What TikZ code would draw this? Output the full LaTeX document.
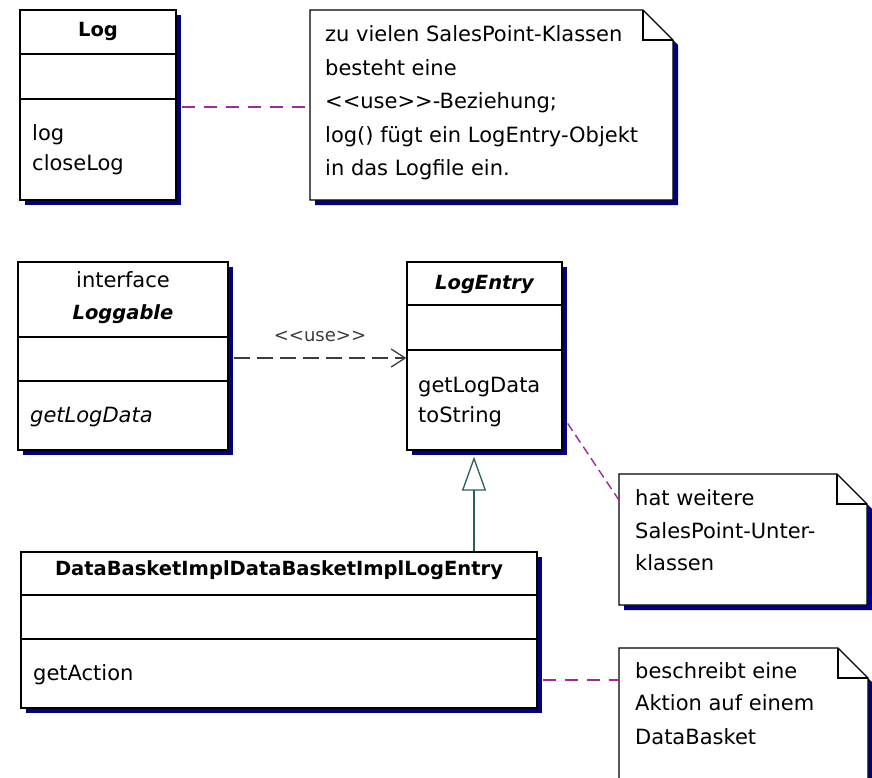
\documentclass[tikz,border=0pt]{standalone}
\usepackage{fontspec}
\newfontfamily\umlfont{DejaVu Sans}
\usetikzlibrary{shadows,arrows.meta,calc}
\definecolor{shadowblue}{RGB}{0,0,128}
\definecolor{notelink}{RGB}{160,40,160}
\definecolor{genteal}{RGB}{40,96,96}
\definecolor{usegray}{RGB}{60,60,60}
\tikzset{
  classbox/.style={draw=black, line width=1.3pt, fill=white, inner sep=0pt,
    general shadow={fill=shadowblue, shadow xshift=5pt, shadow yshift=-5pt}},
  divider/.style={draw=black, line width=1.3pt},
  notebody/.style={draw=black, line width=1.3pt, fill=white, line join=miter},
  noteshadow/.style={fill=shadowblue},
  anchorbox/.style={inner sep=0pt, outer sep=0pt},
  bodytext/.style={font=\umlfont\fontsize{21}{25}\selectfont, inner sep=0pt, anchor=base west},
  centertext/.style={font=\umlfont\fontsize{21}{25}\selectfont, inner sep=0pt, anchor=base},
  classname/.style={font=\umlfont\bfseries\fontsize{19.5}{24}\selectfont, inner sep=0pt, anchor=base},
  notelinkline/.style={draw=notelink, line width=1.4pt, dash pattern=on 13pt off 9pt},
  usedep/.style={draw=usegray, line width=1.4pt, dash pattern=on 16pt off 7pt,
    -{Straight Barb[length=14pt,width=18pt,line width=1.3pt]}},
  genline/.style={draw=genteal, line width=1.4pt,
    -{Triangle[open,length=34pt,width=24pt,line width=1.3pt,fill=white]}},
  uselabel/.style={font=\umlfont\fontsize{18}{22}\selectfont, inner sep=0pt, anchor=base, text=usegray}
}
\begin{document}
\begin{tikzpicture}[x=1pt,y=-1pt]
\useasboundingbox (0,0) rectangle (872,777);
\clip (0,0) rectangle (872,777);

% ---------- Log ----------
\node[classbox, minimum width=156pt, minimum height=190pt] (Log) at (98,105) {};
\draw[divider] (Log.west |- 0,54) -- (Log.east |- 0,54);
\draw[divider] (Log.west |- 0,99) -- (Log.east |- 0,99);
\node[classname] (LogT) at (98,36) {Log};
\node[bodytext] (LogM1) at (32,140) {log};
\node[bodytext] (LogM2) at (32,170) {closeLog};

% ---------- Note 1 ----------
\fill[noteshadow] (315,15) -- (648,15) -- (678,45) -- (678,205) -- (315,205) -- cycle;
\filldraw[notebody] (310,10) -- (643,10) -- (673,40) -- (673,200) -- (310,200) -- cycle;
\draw[notebody, fill=none] (643,10) -- (643,40) -- (673,40);
\node[anchorbox, minimum width=363pt, minimum height=190pt] (NoteA) at (491.5,105) {};
\node[bodytext] (NA1) at (325,41) {zu vielen SalesPoint-Klassen};
\node[bodytext] (NA2) at (325,75) {besteht eine};
\node[bodytext] (NA3) at (325,108) {<<use>>-Beziehung;};
\node[bodytext] (NA4) at (325,142) {log() fügt ein LogEntry-Objekt};
\node[bodytext] (NA5) at (325,175) {in das Logfile ein.};

% ---------- Loggable ----------
\node[classbox, minimum width=210pt, minimum height=188pt] (Loggable) at (123,356) {};
\draw[divider] (Loggable.west |- 0,337) -- (Loggable.east |- 0,337);
\draw[divider] (Loggable.west |- 0,381) -- (Loggable.east |- 0,381);
\node[centertext] (LgS) at (123,287) {interface};
\node[classname, font=\umlfont\bfseries\itshape\fontsize{19.5}{24}\selectfont] (LgT) at (123,319) {Loggable};
\node[bodytext, font=\umlfont\itshape\fontsize{21}{25}\selectfont] (LgM1) at (30,422) {getLogData};

% ---------- LogEntry ----------
\node[classbox, minimum width=155pt, minimum height=188pt] (LogEntry) at (484.5,356) {};
\draw[divider] (LogEntry.west |- 0,305) -- (LogEntry.east |- 0,305);
\draw[divider] (LogEntry.west |- 0,350) -- (LogEntry.east |- 0,350);
\node[classname, font=\umlfont\bfseries\itshape\fontsize{19.5}{24}\selectfont] (LeT) at (484.5,289) {LogEntry};
\node[bodytext] (LeM1) at (418,392) {getLogData};
\node[bodytext] (LeM2) at (418,422) {toString};

% ---------- DataBasketImplDataBasketImplLogEntry ----------
\node[classbox, minimum width=516pt, minimum height=156pt] (DB) at (279,630) {};
\draw[divider] (DB.west |- 0,595) -- (DB.east |- 0,595);
\draw[divider] (DB.west |- 0,639) -- (DB.east |- 0,639);
\node[classname] (DBT) at (279,575) {DataBasketImplDataBasketImplLogEntry};
\node[bodytext] (DBM1) at (33,680) {getAction};

% ---------- Note 2 ----------
\fill[noteshadow] (624,479) -- (842,479) -- (872,509) -- (872,610) -- (624,610) -- cycle;
\filldraw[notebody] (619,474) -- (837,474) -- (867,504) -- (867,605) -- (619,605) -- cycle;
\draw[notebody, fill=none] (837,474) -- (837,504) -- (867,504);
\node[anchorbox, minimum width=248pt, minimum height=131pt] (NoteB) at (743,539.5) {};
\node[bodytext] (NB1) at (635,505) {hat weitere};
\node[bodytext] (NB2) at (635,538) {SalesPoint-Unter-};
\node[bodytext] (NB3) at (635,570) {klassen};

% ---------- Note 3 ----------
\fill[noteshadow] (624,653) -- (843,653) -- (873,683) -- (873,810) -- (624,810) -- cycle;
\filldraw[notebody] (619,648) -- (838,648) -- (868,678) -- (868,800) -- (619,800) -- cycle;
\draw[notebody, fill=none] (838,648) -- (838,678) -- (868,678);
\node[anchorbox, minimum width=249pt, minimum height=152pt] (NoteC) at (743.5,724) {};
\node[bodytext] (NC1) at (635,678) {beschreibt eine};
\node[bodytext] (NC2) at (635,710) {Aktion auf einem};
\node[bodytext] (NC3) at (635,744) {DataBasket};

% ---------- connectors ----------
\coordinate (yuse) at (0,358);
\coordinate (gx) at (474,0);
\draw[notelinkline] ([xshift=5pt]Log.east |- 0,107) -- (NoteA.west |- 0,107);
\draw[usedep] ([xshift=5pt]Loggable.east |- yuse) -- (LogEntry.west |- yuse);
\node[uselabel] (UseL) at (320,341) {<<use>>};
\coordinate (gtop) at ($(LogEntry.south -| gx)+(0,6)$);
\draw[genline] (DB.north -| gx) -- (gtop);
\draw[notelinkline, dash pattern=on 9pt off 5pt]
  ($(LogEntry.north east)!0.856!(LogEntry.south east)+(5,0)$) --
  ($(NoteB.north west)!0.2!(NoteB.south west)$);
\draw[notelinkline] ([xshift=5pt]DB.east |- 0,680) -- (NoteC.west |- 0,680);
\end{tikzpicture}
\end{document}
